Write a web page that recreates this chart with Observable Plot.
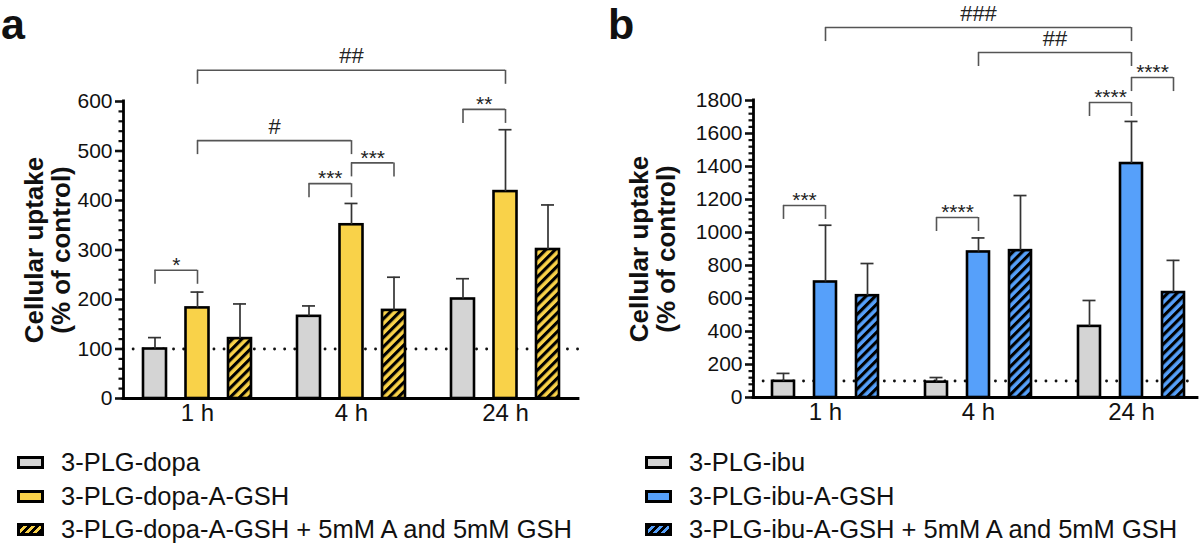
<!DOCTYPE html>
<html>
<head>
<meta charset="utf-8">
<script src="https://cdn.jsdelivr.net/npm/d3@7"></script>
<script src="https://cdn.jsdelivr.net/npm/@observablehq/plot@0.6"></script>
<style>
  body { margin: 0; background: #fff; font-family: "Liberation Sans", Arial, sans-serif; color: #111; }
  #figure { display: flex; width: 1200px; height: 544px; }
  .panel { position: relative; width: 600px; height: 544px; }
  .letter { position: absolute; top: 0; font-weight: bold; font-size: 43px; line-height: 1.15; }
  .legend { position: absolute; top: 446px; font-size: 25.5px; }
  .legend .row { display: flex; align-items: center; height: 33.5px; }
  .legend .sw { box-sizing: border-box; width: 27px; height: 13px; border: 3px solid #000; margin-right: 17px; }
</style>
</head>
<body>
<div id="figure">
  <div class="panel" id="panel-a"><div class="letter" style="left:1px">a</div></div>
  <div class="panel" id="panel-b"><div class="letter" style="left:8px">b</div></div>
</div>
<script>
// Time points on the x axis
const timePoints = ["1 h", "4 h", "24 h"];

// Panel a: 3-PLG-dopa formulations, mean and SD per time point (% of control)
const dopaNames = ["3-PLG-dopa", "3-PLG-dopa-A-GSH", "3-PLG-dopa-A-GSH + 5mM A and 5mM GSH"];
const dopaPlainMean = [100, 166, 201];
const dopaPlainSD = [23, 21, 41];
const dopaGshMean = [183, 351, 418];
const dopaGshSD = [32, 43, 125];
const dopaBlockMean = [121, 178, 301];
const dopaBlockSD = [70, 67, 90];
const dopaTicks = [0, 100, 200, 300, 400, 500, 600];

// Panel b: 3-PLG-ibu formulations
const ibuNames = ["3-PLG-ibu", "3-PLG-ibu-A-GSH", "3-PLG-ibu-A-GSH + 5mM A and 5mM GSH"];
const ibuPlainMean = [98, 93, 431];
const ibuPlainSD = [48, 28, 157];
const ibuGshMean = [700, 882, 1418];
const ibuGshSD = [344, 85, 255];
const ibuBlockMean = [617, 890, 636];
const ibuBlockSD = [195, 334, 195];
const ibuTicks = [0, 200, 400, 600, 800, 1000, 1200, 1400, 1600, 1800];

// Significance brackets: [time index, series index] pairs, bracket level, label
const dopaBrackets = [
  {from: [0, 0], to: [0, 1], level: 259, label: "*"},
  {from: [0, 1], to: [1, 1], level: 521, label: "#"},
  {from: [1, 0], to: [1, 1], level: 434, label: "***"},
  {from: [1, 1], to: [1, 2], level: 476, label: "***"},
  {from: [0, 1], to: [2, 1], level: 663, label: "##"},
  {from: [2, 0], to: [2, 1], level: 584, label: "**"}
];
const ibuBrackets = [
  {from: [0, 0], to: [0, 1], level: 1164, label: "***"},
  {from: [1, 0], to: [1, 1], level: 1091, label: "****"},
  {from: [2, 0], to: [2, 1], level: 1788, label: "****"},
  {from: [2, 1], to: [2, 2], level: 1939, label: "****"},
  {from: [1, 1], to: [2, 1], level: 2091, label: "##"},
  {from: [0, 1], to: [2, 1], level: 2242, label: "###"}
];

const grey = "#d4d4d4";
const yellow = "#f9d249";
const blue = "#56a0fa";

function drawPanel(cfg) {
  const W = 600, H = 440;
  const {means, sds, colors, hatchId, ticks, minorStep, yMax, ml, mr, mt, mb,
         center0, barStep, groupStep, barHalf, brackets, titleDx} = cfg;
  // bar position in layout units (pixels from the first group's centre)
  const pos = (g, s) => g * groupStep + (s - 1) * barStep;
  const xLo = -(center0 - ml);
  const xHi = xLo + (W - ml - mr);
  const rows = means.flatMap((vals, s) =>
    vals.map((m, g) => ({s, g, mean: m, upper: m + sds[s][g], x: pos(g, s)})));
  const unitsPerPx = yMax / (H - mt - mb);
  const drop = 14 * unitsPerPx;
  const minor = d3.range(0, yMax + 1e-9, minorStep).filter(v => !ticks.includes(v));
  const bx = b => [pos(...b.from), pos(...b.to)];

  const hatchDefs = () => {
    const defs = d3.create("svg:defs");
    const p = defs.append("pattern").attr("id", hatchId)
      .attr("patternUnits", "userSpaceOnUse").attr("width", 6.6).attr("height", 6.6)
      .attr("patternTransform", "rotate(45)");
    p.append("rect").attr("width", 6.6).attr("height", 6.6).attr("fill", colors[1]);
    p.append("rect").attr("width", 3.1).attr("height", 6.6).attr("fill", "#000");
    return defs.node();
  };

  const bars = [0, 1, 2].map(s => Plot.rectY(rows.filter(r => r.s === s), {
    x1: r => r.x - barHalf, x2: r => r.x + barHalf, y1: 0, y2: "mean",
    fill: s === 2 ? `url(#${hatchId})` : colors[s], stroke: "#000", strokeWidth: 2.6
  }));

  const isStar = b => b.label.includes("*");

  return Plot.plot({
    width: W, height: H,
    marginLeft: ml, marginRight: mr, marginTop: mt, marginBottom: mb,
    style: {fontFamily: "Liberation Sans, Arial, sans-serif", fontSize: "21px", color: "#111", background: "#fff", overflow: "visible"},
    x: {type: "linear", domain: [xLo, xHi], axis: null},
    y: {domain: [0, yMax], label: null},
    marks: [
      hatchDefs,
      Plot.ruleY([100], {x1: xLo, x2: xHi, stroke: "#111", strokeWidth: 2.8, strokeDasharray: "0.1,10", strokeLinecap: "round"}),
      ...bars,
      Plot.ruleX(rows, {x: "x", y1: "mean", y2: "upper", stroke: "#333", strokeWidth: 1.7}),
      Plot.ruleY(rows, {y: "upper", x1: r => r.x - 6.5, x2: r => r.x + 6.5, stroke: "#333", strokeWidth: 1.7}),
      // significance brackets
      Plot.ruleY(brackets, {y: "level", x1: b => bx(b)[0], x2: b => bx(b)[1], stroke: "#555", strokeWidth: 1.6}),
      Plot.ruleX(brackets, {x: b => bx(b)[0], y1: "level", y2: b => b.level - drop, stroke: "#555", strokeWidth: 1.6}),
      Plot.ruleX(brackets, {x: b => bx(b)[1], y1: "level", y2: b => b.level - drop, stroke: "#555", strokeWidth: 1.6}),
      Plot.text(brackets.filter(isStar), {x: b => (bx(b)[0] + bx(b)[1]) / 2, y: "level", text: "label", fontSize: 21, dy: -5, fill: "#222"}),
      Plot.text(brackets.filter(b => !isStar(b)), {x: b => (bx(b)[0] + bx(b)[1]) / 2, y: "level", text: "label", fontSize: 22, dy: -14, fill: "#222"}),
      // axes
      Plot.axisY(minor, {tickSize: 4.5, strokeWidth: 2.2, text: null, label: null}),
      Plot.axisY(ticks, {tickSize: 8, tickPadding: 3, strokeWidth: 2.6, fontSize: 21, tickFormat: d => String(d), label: null}),
      Plot.ruleX([xLo], {y1: 0, y2: yMax, stroke: "#000", strokeWidth: 2.8, strokeLinecap: "square"}),
      Plot.ruleY([0], {x1: xLo, x2: xHi, stroke: "#000", strokeWidth: 2.8, strokeLinecap: "square"}),
      Plot.text(timePoints, {x: (d, g) => pos(g, 1), frameAnchor: "bottom", dy: 22, fontSize: 24}),
      Plot.text(["Cellular uptake\n(% of control)"], {frameAnchor: "left", textAnchor: "middle", dx: titleDx, rotate: -90, fontWeight: "bold", fontSize: 26, lineHeight: 1.04})
    ]
  });
}

function legend(names, colors, left) {
  const box = document.createElement("div");
  box.className = "legend";
  box.style.left = left + "px";
  names.forEach((name, i) => {
    const row = document.createElement("div");
    row.className = "row";
    const sw = document.createElement("div");
    sw.className = "sw";
    sw.style.background = i === 2
      ? `repeating-linear-gradient(135deg, #000 0 2.6px, ${colors[1]} 2.6px 5.6px)`
      : colors[i];
    const label = document.createElement("span");
    label.textContent = name;
    row.append(sw, label);
    box.append(row);
  });
  return box;
}

const panelA = document.getElementById("panel-a");
panelA.prepend(drawPanel({
  means: [dopaPlainMean, dopaGshMean, dopaBlockMean],
  sds: [dopaPlainSD, dopaGshSD, dopaBlockSD],
  colors: [grey, yellow], hatchId: "hatch-dopa",
  ticks: dopaTicks, minorStep: 20, yMax: 600,
  ml: 123, mr: 22, mt: 101, mb: 42,
  center0: 197, barStep: 42.5, groupStep: 154, barHalf: 11.5,
  brackets: dopaBrackets, titleDx: -76
}));
panelA.append(legend(dopaNames, [grey, yellow], 17));

const panelB = document.getElementById("panel-b");
panelB.prepend(drawPanel({
  means: [ibuPlainMean, ibuGshMean, ibuBlockMean],
  sds: [ibuPlainSD, ibuGshSD, ibuBlockSD],
  colors: [grey, blue], hatchId: "hatch-ibu",
  ticks: ibuTicks, minorStep: 40, yMax: 1800,
  ml: 153, mr: 3, mt: 100, mb: 43,
  center0: 225, barStep: 42, groupStep: 153, barHalf: 11,
  brackets: ibuBrackets, titleDx: -101
}));
panelB.append(legend(ibuNames, [grey, blue], 45));
</script>
</body>
</html>
